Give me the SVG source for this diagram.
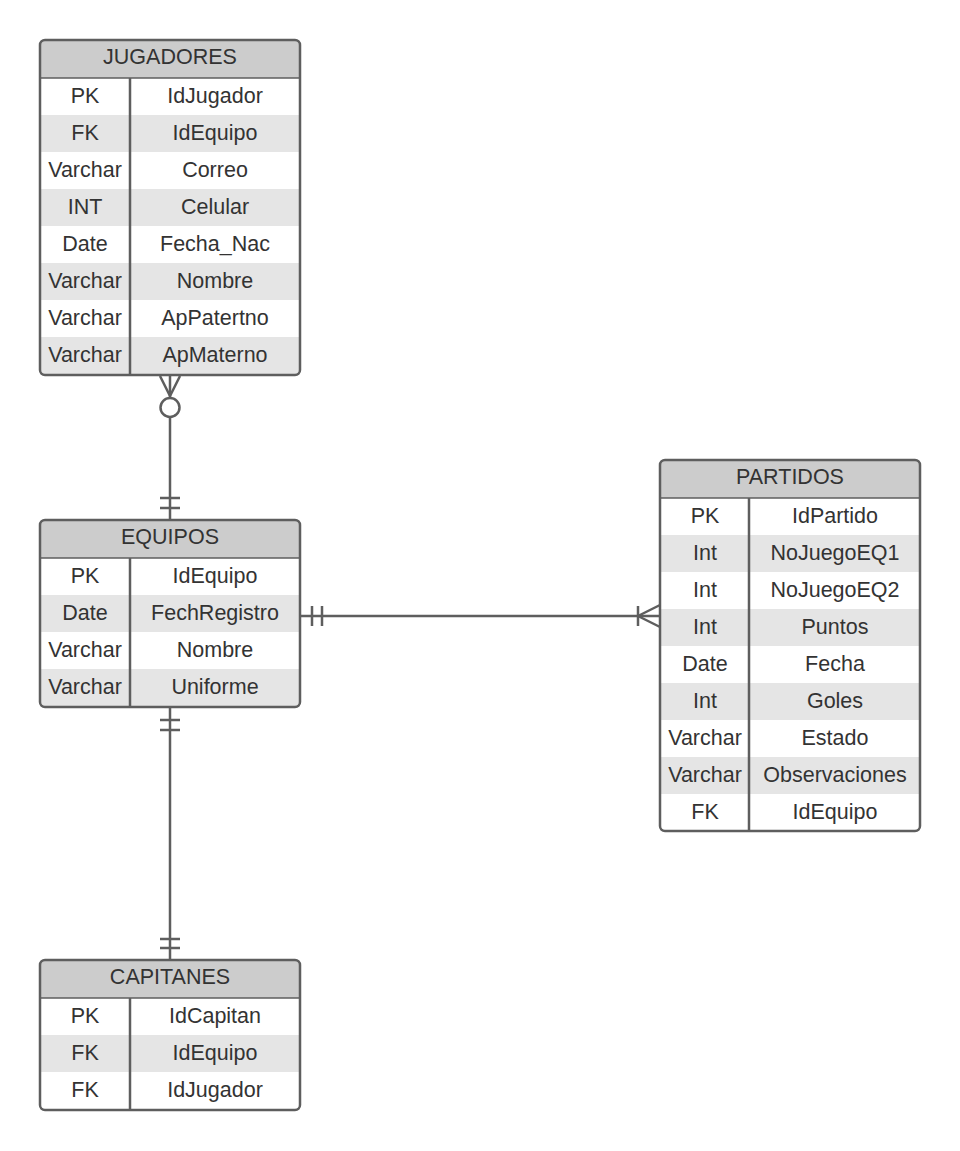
<svg xmlns="http://www.w3.org/2000/svg" width="960" height="1151" viewBox="0 0 960 1151">
<style>
.bg{fill:#ffffff}
.hd{fill:#cccccc}
.alt{fill:#e5e5e5}
.frame{fill:none;stroke:#5e5e5e;stroke-width:2.5}
.div{stroke:#5e5e5e;stroke-width:2.5}
.sep{stroke:#5e5e5e;stroke-width:1.5}
text{font-family:"Liberation Sans",Arial,sans-serif;font-size:21.5px;fill:#333333;text-anchor:middle}
.ln{fill:none;stroke:#5e5e5e;stroke-width:2.5}
</style>
<defs>
<clipPath id="cJ"><rect x="40" y="40" width="260" height="335" rx="5"/></clipPath>
<clipPath id="cE"><rect x="40" y="520" width="260" height="187" rx="5"/></clipPath>
<clipPath id="cP"><rect x="660" y="460" width="260" height="371" rx="5"/></clipPath>
<clipPath id="cC"><rect x="40" y="960" width="260" height="150" rx="5"/></clipPath>
</defs>
<rect width="960" height="1151" fill="#ffffff"/>

<g id="jugadores">
<g clip-path="url(#cJ)">
<rect class="bg" x="40" y="40" width="260" height="335"/>
<rect class="hd" x="40" y="40" width="260" height="38"/>
<rect class="alt" x="40" y="115" width="260" height="37"/>
<rect class="alt" x="40" y="189" width="260" height="37"/>
<rect class="alt" x="40" y="263" width="260" height="37"/>
<rect class="alt" x="40" y="337" width="260" height="38"/>
</g>
<line class="sep" x1="40" y1="78" x2="300" y2="78"/>
<line class="div" x1="130" y1="78" x2="130" y2="375"/>
<rect class="frame" x="40" y="40" width="260" height="335" rx="5"/>
<text x="170" y="63.5">JUGADORES</text>
<text x="85" y="103">PK</text><text x="215" y="103">IdJugador</text>
<text x="85" y="140">FK</text><text x="215" y="140">IdEquipo</text>
<text x="85" y="177">Varchar</text><text x="215" y="177">Correo</text>
<text x="85" y="214">INT</text><text x="215" y="214">Celular</text>
<text x="85" y="251">Date</text><text x="215" y="251">Fecha_Nac</text>
<text x="85" y="288">Varchar</text><text x="215" y="288">Nombre</text>
<text x="85" y="325">Varchar</text><text x="215" y="325">ApPatertno</text>
<text x="85" y="362">Varchar</text><text x="215" y="362">ApMaterno</text>
</g>

<g id="equipos">
<g clip-path="url(#cE)">
<rect class="bg" x="40" y="520" width="260" height="187"/>
<rect class="hd" x="40" y="520" width="260" height="38"/>
<rect class="alt" x="40" y="595" width="260" height="37"/>
<rect class="alt" x="40" y="669" width="260" height="38"/>
</g>
<line class="sep" x1="40" y1="558" x2="300" y2="558"/>
<line class="div" x1="130" y1="558" x2="130" y2="707"/>
<rect class="frame" x="40" y="520" width="260" height="187" rx="5"/>
<text x="170" y="543.5">EQUIPOS</text>
<text x="85" y="583">PK</text><text x="215" y="583">IdEquipo</text>
<text x="85" y="620">Date</text><text x="215" y="620">FechRegistro</text>
<text x="85" y="657">Varchar</text><text x="215" y="657">Nombre</text>
<text x="85" y="694">Varchar</text><text x="215" y="694">Uniforme</text>
</g>

<g id="partidos">
<g clip-path="url(#cP)">
<rect class="bg" x="660" y="460" width="260" height="371"/>
<rect class="hd" x="660" y="460" width="260" height="38"/>
<rect class="alt" x="660" y="535" width="260" height="37"/>
<rect class="alt" x="660" y="609" width="260" height="37"/>
<rect class="alt" x="660" y="683" width="260" height="37"/>
<rect class="alt" x="660" y="757" width="260" height="37"/>
</g>
<line class="sep" x1="660" y1="498" x2="920" y2="498"/>
<line class="div" x1="749" y1="498" x2="749" y2="831"/>
<rect class="frame" x="660" y="460" width="260" height="371" rx="5"/>
<text x="790" y="483.5">PARTIDOS</text>
<text x="705" y="523">PK</text><text x="835" y="523">IdPartido</text>
<text x="705" y="560">Int</text><text x="835" y="560">NoJuegoEQ1</text>
<text x="705" y="597">Int</text><text x="835" y="597">NoJuegoEQ2</text>
<text x="705" y="634">Int</text><text x="835" y="634">Puntos</text>
<text x="705" y="671">Date</text><text x="835" y="671">Fecha</text>
<text x="705" y="708">Int</text><text x="835" y="708">Goles</text>
<text x="705" y="745">Varchar</text><text x="835" y="745">Estado</text>
<text x="705" y="782">Varchar</text><text x="835" y="782">Observaciones</text>
<text x="705" y="819">FK</text><text x="835" y="819">IdEquipo</text>
</g>

<g id="capitanes">
<g clip-path="url(#cC)">
<rect class="bg" x="40" y="960" width="260" height="150"/>
<rect class="hd" x="40" y="960" width="260" height="38"/>
<rect class="alt" x="40" y="1035" width="260" height="37"/>
</g>
<line class="sep" x1="40" y1="998" x2="300" y2="998"/>
<line class="div" x1="130" y1="998" x2="130" y2="1110"/>
<rect class="frame" x="40" y="960" width="260" height="150" rx="5"/>
<text x="170" y="983.5">CAPITANES</text>
<text x="85" y="1023">PK</text><text x="215" y="1023">IdCapitan</text>
<text x="85" y="1060">FK</text><text x="215" y="1060">IdEquipo</text>
<text x="85" y="1097">FK</text><text x="215" y="1097">IdJugador</text>
</g>

<g id="connectors">
<line class="ln" x1="170" y1="376" x2="170" y2="398"/>
<line class="ln" x1="160" y1="376" x2="170" y2="396"/>
<line class="ln" x1="180" y1="376" x2="170" y2="396"/>
<circle class="ln" cx="170" cy="407.5" r="9.5"/>
<line class="ln" x1="170" y1="417" x2="170" y2="520"/>
<line class="ln" x1="160" y1="498" x2="180" y2="498"/>
<line class="ln" x1="160" y1="508" x2="180" y2="508"/>
<line class="ln" x1="300" y1="616" x2="660" y2="616"/>
<line class="ln" x1="312" y1="606" x2="312" y2="626"/>
<line class="ln" x1="322" y1="606" x2="322" y2="626"/>
<line class="ln" x1="638" y1="606" x2="638" y2="626"/>
<line class="ln" x1="638" y1="616" x2="660" y2="605"/>
<line class="ln" x1="638" y1="616" x2="660" y2="627"/>
<line class="ln" x1="170" y1="707" x2="170" y2="960"/>
<line class="ln" x1="160" y1="720" x2="180" y2="720"/>
<line class="ln" x1="160" y1="730" x2="180" y2="730"/>
<line class="ln" x1="160" y1="939" x2="180" y2="939"/>
<line class="ln" x1="160" y1="948" x2="180" y2="948"/>
</g>
</svg>
